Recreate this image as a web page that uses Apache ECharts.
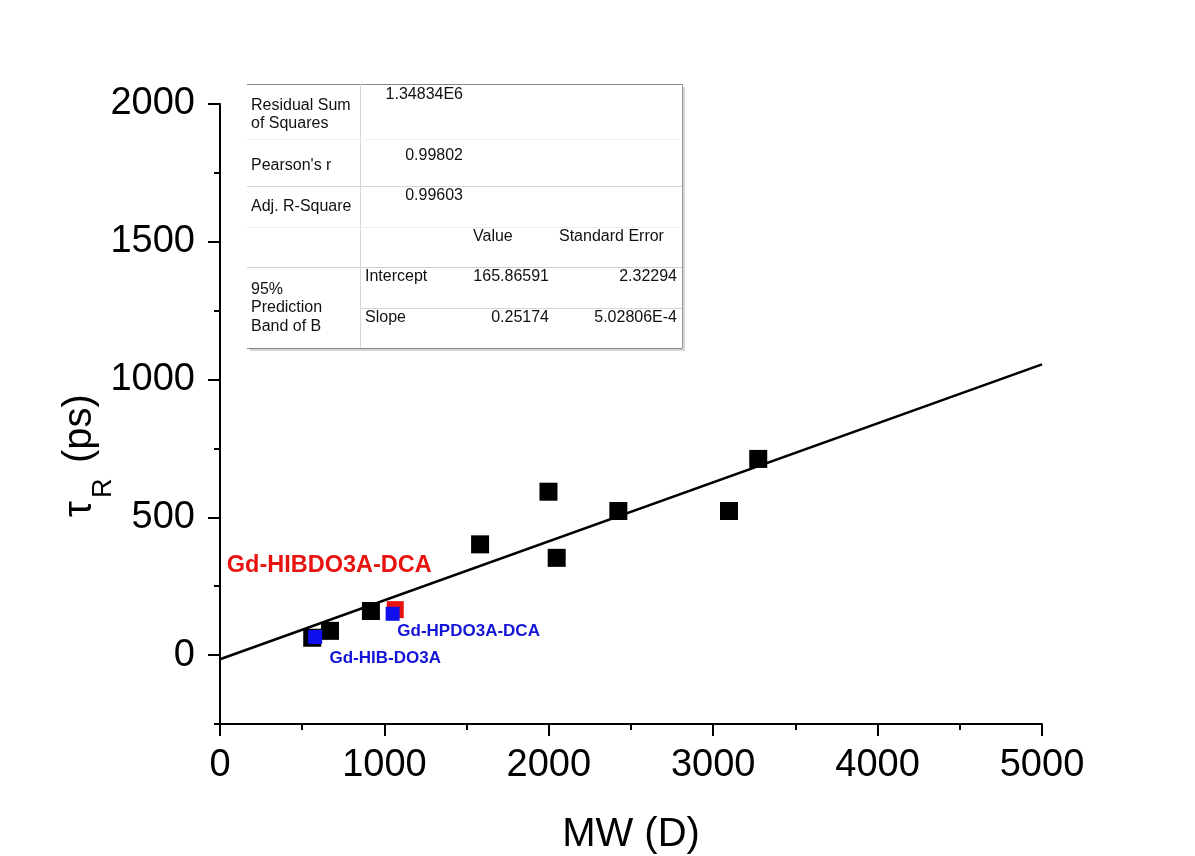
<!DOCTYPE html>
<html>
<head>
<meta charset="utf-8">
<title>Rotational correlation time vs molecular weight</title>
<script src="https://cdn.jsdelivr.net/npm/echarts@6/dist/echarts.min.js"></script>
<style>
  html, body { margin: 0; padding: 0; background: #ffffff; }
  #chart { width: 1195px; height: 856px; }
</style>
</head>
<body>
<div id="chart"></div>
<script>
// ---- data: molecular weight (D) vs rotational correlation time tau_R (ps) ----
const mwRef = [561, 669, 918, 1582, 1998, 2048, 2423, 3096, 3274];
const tauRef = [63, 88, 160, 402, 593, 353, 523, 523, 712];

const mwRed = [1066];
const tauRed = [165];
const redNames = ['Gd-HIBDO3A-DCA'];

const mwBlue = [1050, 579];
const tauBlue = [150, 66];
const blueNames = ['Gd-HPDO3A-DCA', 'Gd-HIB-DO3A'];

// linear fit drawn across the axis range
const fitMW = [0, 5000];
const fitTau = [-15, 1055];

// axis ticks
const xTicks = [0, 1000, 2000, 3000, 4000, 5000];
const yTicks = [0, 500, 1000, 1500, 2000];

// fit summary table
const statNames = ['Residual Sum\nof Squares', "Pearson's r", 'Adj. R-Square'];
const statValues = ['1.34834E6', '0.99802', '0.99603'];
const paramHeaders = ['Value', 'Standard Error'];
const paramNames = ['Intercept', 'Slope'];
const paramValues = ['165.86591', '0.25174'];
const paramErrors = ['2.32294', '5.02806E-4'];
const bandLabel = '95%\nPrediction\nBand of B';

// ---- layout / style ----
const FONT = '"Liberation Sans", Arial, Helvetica, sans-serif';
const redLabelOffsets = [[-66, -44]];
const blueLabelOffsets = [[76, 18], [70, 21]];

const pairs = (xs, ys) => xs.map((x, i) => [x, ys[i]]);
const plain = (v) => String(v);

const chart = echarts.init(document.getElementById('chart'), null, { renderer: 'canvas' });

// table graphic
const T = { x0: 247, x1: 682, y0: 84, y1: 348, colX: 360.5 };
const tFont = '16px ' + FONT;
const txt = (text, x, y, align, lh) => ({
  type: 'text', silent: true, z: 102,
  style: { text, x, y, font: tFont, fill: '#111', textAlign: align || 'left', textVerticalAlign: 'middle', lineHeight: lh || 18 }
});
const hline = (x1, x2, y, color) => ({
  type: 'line', silent: true, z: 101,
  shape: { x1, y1: y, x2, y2: y }, style: { stroke: color, lineWidth: 1 }
});
const vline = (x, y1, y2, color) => ({
  type: 'line', silent: true, z: 101,
  shape: { x1: x, y1, x2: x, y2 }, style: { stroke: color, lineWidth: 1 }
});

const statY = [115, 166, 206.7];
const statValY = [95, 156, 196];
const paramY = [277, 317.7];

const tableElements = [
  { type: 'rect', silent: true, z: 99, shape: { x: T.x0 + 3, y: T.y0 + 3, width: T.x1 - T.x0, height: T.y1 - T.y0 }, style: { fill: '#d4d4d4' } },
  { type: 'rect', silent: true, z: 100, shape: { x: T.x0, y: T.y0, width: T.x1 - T.x0, height: T.y1 - T.y0 }, style: { fill: '#ffffff' } },
  hline(T.x0, T.x1, T.y0 + 0.5, '#8a8a8a'),
  hline(T.x0, T.x1, T.y1 + 0.5, '#8a8a8a'),
  vline(T.x1 + 0.5, T.y0, T.y1, '#9a9a9a'),
  vline(T.colX, T.y0, T.y1, '#d6d6d6'),
  hline(T.x0, T.x1, 139.5, '#f0f0f0'),
  hline(T.x0, T.x1, 186.5, '#d6d6d6'),
  hline(T.x0, T.x1, 227.5, '#eeeeee'),
  hline(T.x0, T.x1, 267.5, '#d0d0d0'),
  hline(T.colX, T.x1, 308.5, '#d6d6d6')
];
statNames.forEach((n, i) => tableElements.push(txt(n, 251, statY[i], 'left')));
statValues.forEach((v, i) => tableElements.push(txt(v, 463, statValY[i], 'right')));
tableElements.push(txt(paramHeaders[0], 473, 236.7, 'left'));
tableElements.push(txt(paramHeaders[1], 559, 236.7, 'left'));
paramNames.forEach((n, i) => tableElements.push(txt(n, 365, paramY[i], 'left')));
paramValues.forEach((v, i) => tableElements.push(txt(v, 549, paramY[i], 'right')));
paramErrors.forEach((v, i) => tableElements.push(txt(v, 677, paramY[i], 'right')));
tableElements.push(txt(bandLabel, 251, 308, 'left', 18.3));

// rotated y-axis title: tau with subscript R, then unit
const yTitle = {
  type: 'group', x: 80, y: 517, rotation: Math.PI / 2, silent: true,
  children: [
    { type: 'text', style: { text: 'τ', x: 0, y: 0, font: '40px ' + FONT, fill: '#000', textAlign: 'left', textVerticalAlign: 'middle' } },
    { type: 'text', style: { text: 'R', x: 19, y: 24, font: '27px ' + FONT, fill: '#000', textAlign: 'left', textVerticalAlign: 'middle' } },
    { type: 'text', style: { text: '(ps)', x: 54, y: 0, font: '40px ' + FONT, fill: '#000', textAlign: 'left', textVerticalAlign: 'middle' } }
  ]
};

const axisBlack = { color: '#000', width: 2 };
const tickLabel = { color: '#000', fontFamily: FONT, fontSize: 38, formatter: plain };

const labelled = (xs, ys, names, offsets, color, size) => xs.map((x, i) => ({
  value: [x, ys[i]],
  label: {
    show: true, position: 'inside', offset: offsets[i], formatter: names[i],
    color, opacity: 1, fontFamily: FONT, fontWeight: 'bold', fontSize: size
  }
}));

const option = {
  backgroundColor: '#ffffff',
  animation: false,
  grid: [
    { left: 220, right: 153, top: 104, bottom: 132, containLabel: false, outerBoundsMode: 'none' },
    { left: 220, right: 153, top: 104, bottom: 200.89, containLabel: false, outerBoundsMode: 'none' }
  ],
  xAxis: [
    {
      type: 'value', gridIndex: 0, min: xTicks[0], max: xTicks[xTicks.length - 1], interval: 1000,
      axisLine: { show: true, onZero: false, lineStyle: axisBlack },
      axisTick: { show: true, inside: false, length: 12, lineStyle: axisBlack },
      minorTick: { show: true, splitNumber: 2, length: 6, lineStyle: axisBlack },
      axisLabel: Object.assign({ margin: 23 }, tickLabel),
      splitLine: { show: false },
      name: 'MW (D)', nameLocation: 'middle', nameGap: 91,
      nameTextStyle: { color: '#000', fontFamily: FONT, fontSize: 40 }
    },
    { type: 'value', gridIndex: 1, min: xTicks[0], max: xTicks[xTicks.length - 1], show: false }
  ],
  yAxis: [
    {
      type: 'value', gridIndex: 0, min: -250, max: yTicks[yTicks.length - 1], interval: 250,
      axisLine: { show: true, onZero: false, lineStyle: axisBlack },
      axisTick: { show: true, inside: false, length: 6, lineStyle: axisBlack },
      axisLabel: { show: false },
      splitLine: { show: false }
    },
    {
      type: 'value', gridIndex: 1, min: yTicks[0], max: yTicks[yTicks.length - 1], interval: 500,
      axisLine: { show: false },
      axisTick: { show: true, inside: false, length: 12, lineStyle: axisBlack },
      axisLabel: Object.assign({ margin: 25 }, tickLabel),
      splitLine: { show: false }
    }
  ],
  graphic: { elements: tableElements.concat([yTitle]) },
  series: [
    {
      type: 'line', xAxisIndex: 0, yAxisIndex: 0, data: pairs(fitMW, fitTau),
      symbol: 'none', lineStyle: { color: '#000', width: 2.5 }, z: 2, silent: true
    },
    {
      type: 'scatter', xAxisIndex: 0, yAxisIndex: 0, data: pairs(mwRef, tauRef),
      symbol: 'rect', symbolSize: 18, itemStyle: { color: '#000', opacity: 1 }, z: 3
    },
    {
      type: 'scatter', xAxisIndex: 0, yAxisIndex: 0,
      data: labelled(mwRed, tauRed, redNames, redLabelOffsets, '#e8130f', 23.5),
      symbol: 'rect', symbolSize: 17, itemStyle: { color: '#e8130f', opacity: 1 }, z: 4
    },
    {
      type: 'scatter', xAxisIndex: 0, yAxisIndex: 0,
      data: labelled(mwBlue, tauBlue, blueNames, blueLabelOffsets, '#1414d8', 17),
      symbol: 'rect', symbolSize: 14, itemStyle: { color: '#1010ee', opacity: 1 }, z: 5
    }
  ]
};

chart.setOption(option);
</script>
</body>
</html>
